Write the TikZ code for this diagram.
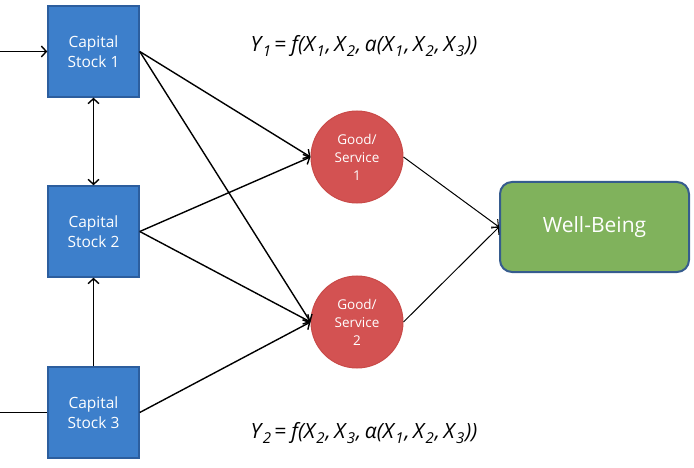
\documentclass[tikz,border=0pt]{standalone}
\usepackage{fontspec}
\setmainfont{Open Sans}
\usetikzlibrary{arrows.meta}
\definecolor{boxblue}{HTML}{3D7FCB}
\definecolor{boxedge}{HTML}{2C5E9E}
\definecolor{goodred}{HTML}{D35252}
\definecolor{goodedge}{HTML}{C94A48}
\definecolor{wbgreen}{HTML}{80B25C}
\definecolor{wbedge}{HTML}{365C8E}
\newcommand{\sbs}[1]{\hspace{1.5pt}\raisebox{-5.5pt}{\fontsize{15}{15}\selectfont #1}\hspace{1pt}}
\newcommand{\cma}{,\hspace{3.5pt}}
\tikzset{
  stockbox/.style={rectangle, draw=boxedge, fill=boxblue, line width=1.5pt, minimum width=91pt, minimum height=91pt, text=white, align=center, font=\fontsize{15.5}{20}\selectfont, inner sep=0pt},
  goodnode/.style={circle, draw=goodedge, fill=goodred, line width=1pt, minimum size=92pt, text=white, align=center, font=\fontsize{13.5}{18}\selectfont, inner sep=0pt},
  wbnode/.style={rectangle, rounded corners=12pt, draw=wbedge, fill=wbgreen, line width=2pt, minimum width=189pt, minimum height=90pt, text=white, font=\fontsize{21}{24}\selectfont},
  thick arrow/.style={line width=1.4pt, -{Straight Barb[length=5pt,width=11pt]}},
  thin arrow/.style={line width=1pt, -{Straight Barb[length=5pt,width=11pt]}},
  eqn/.style={font=\fontsize{21}{24}\selectfont\itshape, inner sep=0pt}
}
\begin{document}
\begin{tikzpicture}[x=1pt,y=-1pt]
\path[use as bounding box] (0,0) rectangle (694,468);
\node[stockbox] (b1) at (93.5,51.5) {Capital\\Stock 1};
\node[stockbox] (b2) at (93.5,231.5) {Capital\\Stock 2};
\node[stockbox] (b3) at (93.5,412.5) {Capital\\Stock 3};
\node[goodnode] (c1) at (357,157) {Good/\\Service\\1};
\node[goodnode] (c2) at (357,322) {Good/\\Service\\2};
\node[wbnode] (wb) at (594.5,227) {Well-Being};
\coordinate (in1) at (0,51.5);
\coordinate (in3) at (0,412.5);
\node[eqn] (y1) at (364,46) {Y\sbs{1}\hspace{2pt}= f(X\sbs{1}\cma X\sbs{2}\cma a(X\sbs{1}\cma X\sbs{2}\cma X\sbs{3}))};
\node[eqn] (y2) at (364,433) {Y\sbs{2}\hspace{2pt}= f(X\sbs{2}\cma X\sbs{3}\cma α(X\sbs{1}\cma X\sbs{2}\cma X\sbs{3}))};
\draw[thick arrow] (in1) -- (b1.west);
\draw[line width=1.4pt] (in3) -- (b3.west);
\draw[thick arrow, {Straight Barb[length=5pt,width=11pt]}-{Straight Barb[length=5pt,width=11pt]}] (b1.south) -- (b2.north);
\draw[thick arrow] (b3.north) -- (b2.south);
\draw[thick arrow] (b1.east) -- (c1.west);
\draw[thick arrow] (b1.east) -- (c2.west);
\draw[thick arrow] (b2.east) -- (c1.west);
\draw[thick arrow] (b2.east) -- (c2.west);
\draw[thick arrow] (b3.east) -- (c2.west);
\draw[thin arrow] (c1.east) -- (wb.west);
\draw[thin arrow] (c2.east) -- (wb.west);
\end{tikzpicture}
\end{document}
